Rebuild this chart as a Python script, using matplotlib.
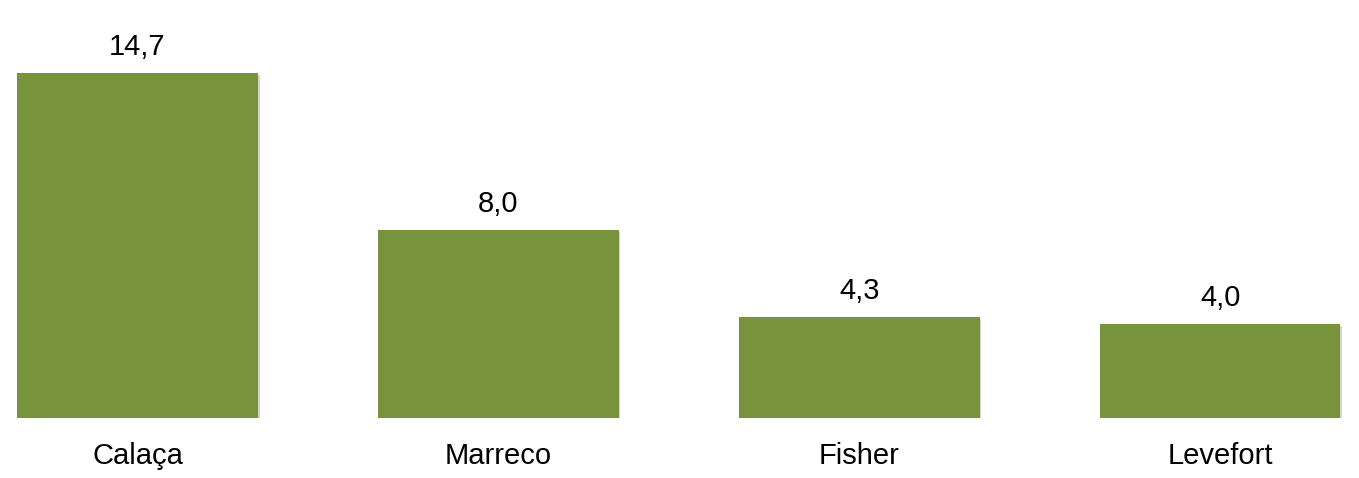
import matplotlib
matplotlib.use("Agg")
import matplotlib.pyplot as plt
import matplotlib.patheffects as pe

categories = ["Calaça", "Marreco", "Fisher", "Levefort"]
values = [14.7, 8.0, 4.3, 4.0]
value_labels = ["14,7", "8,0", "4,3", "4,0"]

plt.rcParams['font.family'] = ['Liberation Sans', 'DejaVu Sans']

fig = plt.figure(figsize=(13.59, 4.78), dpi=100)
ax = fig.add_axes([0, 60/478, 1, 418/478])

x = list(range(len(categories)))
bars = ax.bar(x, values, width=0.667, color="#77933C", zorder=2)
for b in bars:
    b.set_path_effects([pe.SimplePatchShadow(offset=(1.2, -1.5), shadow_rgbFace="#aaaaaa", alpha=0.5), pe.Normal()])

for xi, v, lab in zip(x, values, value_labels):
    ax.annotate(lab, (xi, v), xytext=(0, 8.5), textcoords="offset points",
                ha="center", va="bottom", fontsize=21, color="black")

ax.set_xlim(-0.381, 3.385)
ax.set_ylim(0, 418/23.5)
ax.set_xticks(x)
ax.set_xticklabels(categories, fontsize=21)
ax.tick_params(axis='x', length=0, pad=17)
ax.set_yticks([])
for s in ax.spines.values():
    s.set_visible(False)

fig.savefig("out.png", dpi=100)
